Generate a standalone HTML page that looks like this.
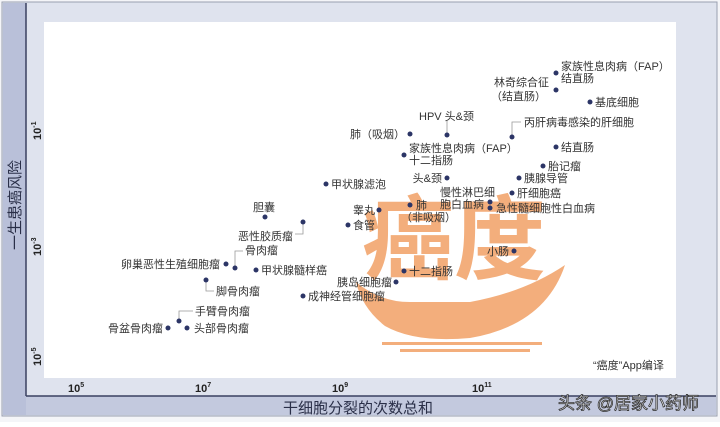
<!DOCTYPE html>
<html><head><meta charset="utf-8"><style>
body{margin:0;width:720px;height:422px;overflow:hidden;background:#fff}
svg text{font-family:"Liberation Sans","Noto Sans CJK SC",sans-serif}
</style></head><body>
<svg width="720" height="422" xmlns="http://www.w3.org/2000/svg">
<rect x="0" y="0" width="720" height="422" fill="#f4f5f8"/>
<rect x="2" y="2" width="715" height="414" fill="#dfe3ee" stroke="#9aa0b0"/>
<rect x="3" y="3" width="23" height="412" fill="#b9c0d9"/>
<rect x="26" y="396" width="690" height="19" fill="#c3c9de"/>
<line x1="26" y1="3" x2="26" y2="396" stroke="#3a4160" stroke-width="1.5"/>
<line x1="26" y1="396" x2="716" y2="396" stroke="#3a4160" stroke-width="1.5"/>
<rect x="44" y="22" width="632" height="356" fill="#fff"/>
<!-- watermark -->
<g fill="#f2a66e" opacity="0.9">
<text x="362" y="272" font-size="92" font-weight="bold">癌度</text>
<path d="M356 282 Q380 302 410 302 L470 302 Q525 292 565 265 Q545 325 470 338 Q415 343 385 326 Q362 308 356 282Z"/>
<rect x="382" y="342" width="160" height="3"/>
<rect x="400" y="349" width="130" height="3"/>
</g>
<!-- axes labels -->
<g font-size="11" font-weight="bold" fill="#222">
<text x="68" y="392">10<tspan dy="-5" font-size="7">5</tspan></text>
<text x="195" y="392">10<tspan dy="-5" font-size="7">7</tspan></text>
<text x="332" y="392">10<tspan dy="-5" font-size="7">9</tspan></text>
<text x="472" y="392">10<tspan dy="-5" font-size="7">11</tspan></text>
<text transform="translate(41,140) rotate(-90)">10<tspan dy="-5" font-size="7">-1</tspan></text>
<text transform="translate(41,256) rotate(-90)">10<tspan dy="-5" font-size="7">-3</tspan></text>
<text transform="translate(41,366) rotate(-90)">10<tspan dy="-5" font-size="7">-5</tspan></text>
</g>
<text x="283" y="413" font-size="15" fill="#2a2f48">干细胞分裂的次数总和</text>
<text transform="translate(20,250) rotate(-90)" font-size="15" fill="#2a2f48">一生患癌风险</text>
<!-- connectors -->
<g stroke="#999" fill="none" stroke-width="0.8">
<path d="M447 133 V121"/><path d="M512 135 V122 H521"/>
<path d="M303 224 V234 H295"/><path d="M235 266 V251 H243"/>
<path d="M206 282 V291 H214"/><path d="M179 319 V311 H193"/>
</g>
<g fill="#2c3566">
<circle cx="556" cy="73" r="2.5"/><circle cx="556" cy="90" r="2.5"/><circle cx="590" cy="102" r="2.5"/>
<circle cx="447" cy="135" r="2.5"/><circle cx="512" cy="137" r="2.5"/><circle cx="410" cy="134" r="2.5"/>
<circle cx="556" cy="147" r="2.5"/><circle cx="404" cy="155" r="2.5"/><circle cx="543" cy="166" r="2.5"/>
<circle cx="447" cy="178" r="2.5"/><circle cx="519" cy="178" r="2.5"/><circle cx="326" cy="184" r="2.5"/>
<circle cx="490" cy="202" r="2.5"/><circle cx="490" cy="208" r="2.5"/><circle cx="512" cy="193" r="2.5"/>
<circle cx="410" cy="205" r="2.5"/><circle cx="379" cy="210" r="2.5"/><circle cx="265" cy="217" r="2.5"/>
<circle cx="303" cy="222" r="2.5"/><circle cx="348" cy="225" r="2.5"/><circle cx="235" cy="268" r="2.5"/>
<circle cx="226" cy="264" r="2.5"/><circle cx="256" cy="270" r="2.5"/><circle cx="514" cy="251" r="2.5"/>
<circle cx="404" cy="271" r="2.5"/><circle cx="206" cy="280" r="2.5"/><circle cx="396" cy="282" r="2.5"/>
<circle cx="303" cy="296" r="2.5"/><circle cx="179" cy="321" r="2.5"/><circle cx="168" cy="328" r="2.5"/>
<circle cx="187" cy="328" r="2.5"/>
</g>
<g font-size="11" fill="#333">
<text x="561" y="70">家族性息肉病（FAP）</text><text x="561" y="82">结直肠</text>
<text x="549" y="86" text-anchor="end">林奇综合征</text><text x="546" y="100" text-anchor="end">（结直肠）</text>
<text x="595" y="106">基底细胞</text>
<text x="419" y="120">HPV 头&amp;颈</text>
<text x="524" y="126">丙肝病毒感染的肝细胞</text>
<text x="405" y="138" text-anchor="end">肺（吸烟）</text>
<text x="561" y="151">结直肠</text>
<text x="409" y="152">家族性息肉病（FAP）</text><text x="409" y="164">十二指肠</text>
<text x="548" y="170">胎记瘤</text>
<text x="442" y="182" text-anchor="end">头&amp;颈</text>
<text x="524" y="182">胰腺导管</text>
<text x="331" y="188">甲状腺滤泡</text>
<text x="440" y="196">慢性淋巴细</text><text x="440" y="208">胞白血病</text>
<text x="517" y="197">肝细胞癌</text>
<text x="496" y="212">急性髓细胞性白血病</text>
<text x="416" y="209">肺</text><text x="401" y="221">（非吸烟）</text>
<text x="375" y="214" text-anchor="end">睾丸</text>
<text x="253" y="211">胆囊</text>
<text x="293" y="240" text-anchor="end">恶性胶质瘤</text>
<text x="353" y="229">食管</text>
<text x="245" y="254">骨肉瘤</text>
<text x="220" y="268" text-anchor="end">卵巢恶性生殖细胞瘤</text>
<text x="261" y="274">甲状腺髓样癌</text>
<text x="509" y="255" text-anchor="end">小肠</text>
<text x="409" y="275">十二指肠</text>
<text x="216" y="295">脚骨肉瘤</text>
<text x="392" y="286" text-anchor="end">胰岛细胞瘤</text>
<text x="308" y="300">成神经管细胞瘤</text>
<text x="195" y="315">手臂骨肉瘤</text>
<text x="163" y="332" text-anchor="end">骨盆骨肉瘤</text>
<text x="194" y="332">头部骨肉瘤</text>
<text x="593" y="369">“癌度”App编译</text>
</g>
<text x="558" y="409" font-size="17" fill="#fff" stroke="#333" stroke-width="0.8">头条 @居家小药师</text>
</svg>
</body></html>
